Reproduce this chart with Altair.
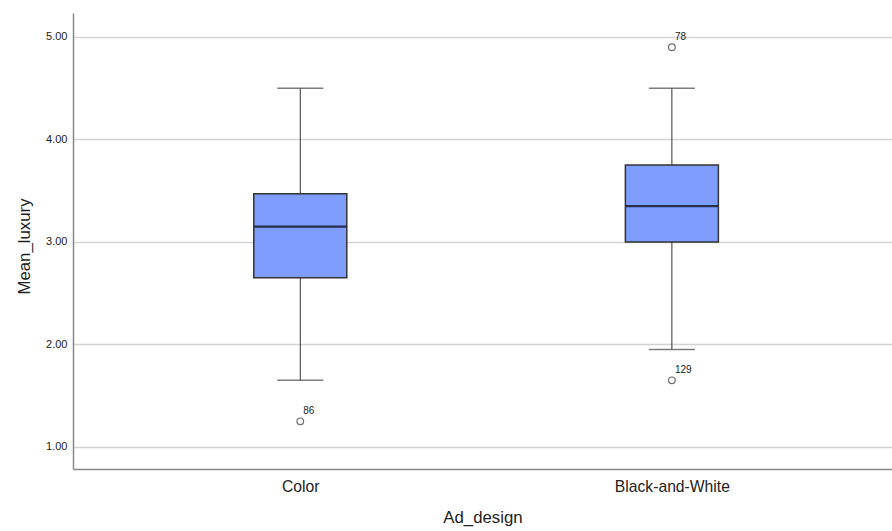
import altair as alt
import pandas as pd

# Summary statistics of Mean_luxury per ad design
groups = ["Color", "Black-and-White"]
whisker_low = [1.65, 1.95]
q1 = [2.65, 3.00]
median = [3.15, 3.35]
q3 = [3.47, 3.75]
whisker_high = [4.50, 4.50]

# Outlying cases with their case numbers
outlier_group = ["Color", "Black-and-White", "Black-and-White"]
outlier_value = [1.25, 4.90, 1.65]
outlier_case = ["86", "78", "129"]

y_ticks = [1.0, 2.0, 3.0, 4.0, 5.0]

stats = pd.DataFrame({
    "Ad_design": groups,
    "low": whisker_low,
    "q1": q1,
    "median": median,
    "q3": q3,
    "high": whisker_high,
})
outliers = pd.DataFrame({
    "Ad_design": outlier_group,
    "value": outlier_value,
    "case": outlier_case,
})

FONT = "Liberation Sans"
TEXT = "#222222"

x_enc = alt.X(
    "Ad_design:N",
    sort=groups,
    title="Ad_design",
    scale=alt.Scale(type="point", padding=0.602, align=0.508),
    axis=alt.Axis(
        labelAngle=0, ticks=False, labelFontSize=15.7, labelPadding=10,
        labelColor=TEXT, titleFontSize=16.8, titleFontWeight="normal",
        titleColor=TEXT, titlePadding=16, domainColor="#888888",
        domainWidth=1.5, grid=False, labelFont=FONT, titleFont=FONT,
    ),
)

y_scale = alt.Scale(domain=[0.785, 5.234], nice=False, zero=False)
y_axis = alt.Axis(
    values=y_ticks, format=".2f", ticks=False, labelFontSize=11,
    labelPadding=6, labelColor=TEXT, titleFontSize=16.8,
    titleFontWeight="normal", titleColor=TEXT, titlePadding=12,
    titleY=233,
    domainColor="#888888", domainWidth=1.5, grid=True,
    gridColor="#d3d3d3", gridWidth=1.5, labelFont=FONT, titleFont=FONT,
)

base = alt.Chart(stats)

whiskers = base.mark_rule(color="#333333", strokeWidth=1).encode(
    x=x_enc,
    y=alt.Y("low:Q", scale=y_scale, axis=y_axis, title="Mean_luxury"),
    y2="high:Q",
)

cap_low = base.mark_tick(color="#444444", size=46, thickness=1.5).encode(
    x=alt.X("Ad_design:N", sort=groups), y=alt.Y("low:Q")
)
cap_high = base.mark_tick(color="#444444", size=46, thickness=1.5).encode(
    x=alt.X("Ad_design:N", sort=groups), y=alt.Y("high:Q")
)

boxes = base.mark_bar(
    size=93, fill="#7f9dfd", stroke="#333333", strokeWidth=1.5
).encode(
    x=alt.X("Ad_design:N", sort=groups), y=alt.Y("q1:Q"), y2="q3:Q"
)

medians = base.mark_tick(color="#000000", size=92, thickness=2.2).encode(
    x=alt.X("Ad_design:N", sort=groups), y=alt.Y("median:Q")
)

out_base = alt.Chart(outliers)
points = out_base.mark_point(
    shape="circle", filled=False, size=45, color="#333333", strokeWidth=1.2
).encode(
    x=alt.X("Ad_design:N", sort=groups), y=alt.Y("value:Q")
)
labels = out_base.mark_text(
    align="left", baseline="bottom", dx=3, dy=-5, fontSize=10,
    color=TEXT, font=FONT,
).encode(
    x=alt.X("Ad_design:N", sort=groups), y=alt.Y("value:Q"), text="case:N"
)

chart = (
    alt.layer(whiskers, cap_low, cap_high, boxes, medians, points, labels)
    .properties(
        width=819,
        height=456,
        autosize=alt.AutoSizeParams(type="none"),
        padding={"left": 73, "top": 13, "right": 0, "bottom": 62},
        background="#ffffff",
    )
    .configure_view(stroke=None, fill="#ffffff")
)

chart.save("out.html", embed_options={"renderer": "svg", "actions": False})
